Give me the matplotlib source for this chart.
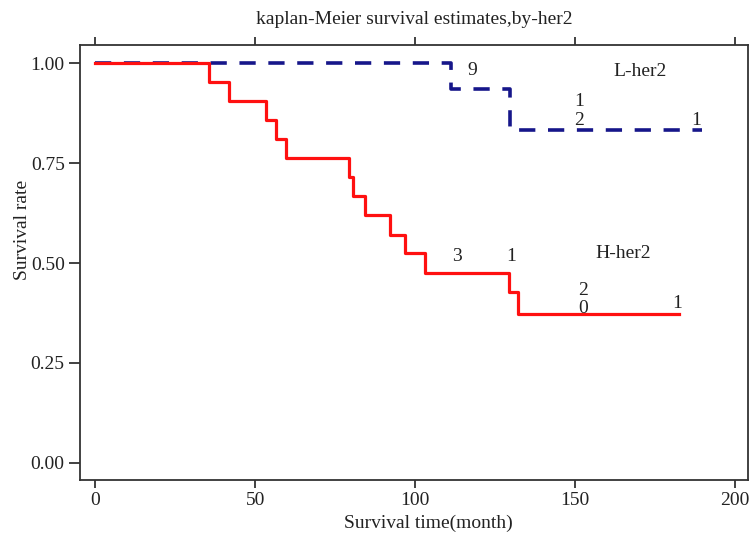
import matplotlib
matplotlib.use('Agg')
from matplotlib import pyplot as plt

# H-her2 (red, solid)
h_time = [0, 35.7, 42.0, 53.3, 56.5, 59.6, 79.3, 80.5, 84.4, 92.0, 96.9, 103.1, 129.2, 132.0, 182.5]
h_surv = [1.0, 0.952, 0.905, 0.857, 0.810, 0.762, 0.714, 0.667, 0.619, 0.571, 0.524, 0.476, 0.427, 0.372, 0.372]

# L-her2 (blue, dashed)
l_time = [0, 111.3, 129.5, 189.6]
l_surv = [1.0, 0.934, 0.832, 0.832]

xticks = [0, 50, 100, 150, 200]
yticks = [0.0, 0.25, 0.5, 0.75, 1.0]

# number labels written on the plot
l_notes = [('9', 117.7, 0.982), ('L-her2', 170.3, 0.978), ('1', 151.3, 0.903),
           ('2', 151.3, 0.857), ('1', 187.8, 0.857)]
h_notes = [('3', 113.0, 0.516), ('1', 129.9, 0.516), ('H-her2', 165.0, 0.524),
           ('2', 152.4, 0.431), ('0', 152.4, 0.387), ('1', 181.8, 0.400)]


def main():
    plt.rcParams['font.family'] = ['Liberation Serif', 'DejaVu Serif']
    fig = plt.figure(figsize=(7.51, 5.36), dpi=100)
    ax = fig.add_axes([0.1065, 0.1045, 0.8895, 0.8115])

    ax.step(l_time, l_surv, where='post', color='#16168a', lw=2.6,
            dashes=(4.5, 3.5), zorder=2)
    ax.step(h_time, h_surv, where='post', color='#ff1010', lw=2.3, zorder=3)

    for txt, x, y in l_notes + h_notes:
        ax.text(x, y, txt, ha='center', va='center', fontsize=14, color='#222222')

    ax.set_xlim(-4.7, 204)
    ax.set_ylim(-0.0425, 1.045)
    ax.set_xticks(xticks)
    ax.set_xticklabels([str(t) for t in xticks])
    ax.set_yticks(yticks)
    ax.set_yticklabels(['%.2f' % t for t in yticks])
    ax.tick_params(axis='both', direction='out', width=1.3,
                   colors='#333333', labelsize=14, labelcolor='#222222')
    ax.tick_params(axis='x', top=True, length=6, pad=3)
    ax.tick_params(axis='y', length=8, pad=3)
    for s in ax.spines.values():
        s.set_linewidth(1.3)
        s.set_color('#333333')

    ax.set_title('kaplan-Meier survival estimates,by-her2', fontsize=14,
                 color='#222222', pad=15)
    ax.set_xlabel('Survival time(month)', fontsize=14, color='#222222', labelpad=4)
    ax.set_ylabel('Survival rate', fontsize=14, color='#222222', labelpad=0)
    ax.xaxis.label.set_x(0.521)
    ax.yaxis.label.set_y(0.575)

    fig.savefig('out.png', dpi=100)


if __name__ == '__main__':
    main()
